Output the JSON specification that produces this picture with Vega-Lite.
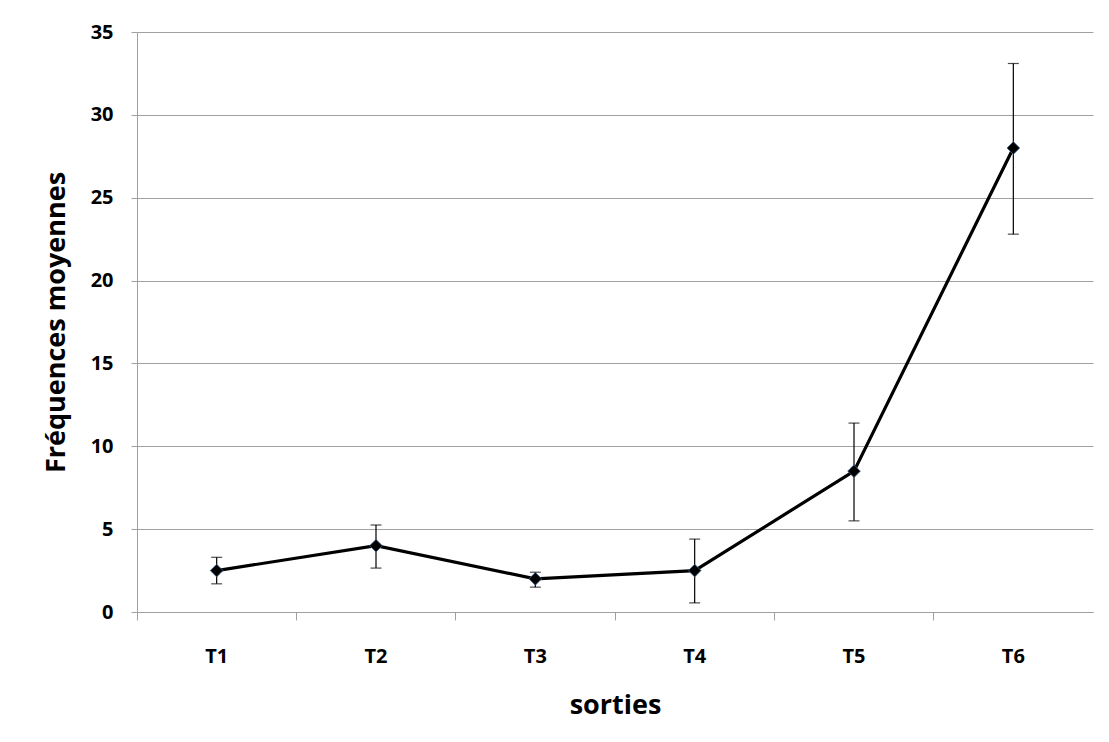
{
  "$schema": "https://vega.github.io/schema/vega-lite/v6.json",
  "autosize": "none",
  "width": 956,
  "height": 580,
  "padding": {"left": 137, "top": 32, "right": 16, "bottom": 130},
  "background": "white",
  "config": {
    "view": {"stroke": null},
    "font": "Open Sans"
  },
  "data": {
    "values": [
      {"sortie": "T1", "moyenne": 2.5, "bas": 1.7, "haut": 3.3},
      {"sortie": "T2", "moyenne": 4.0, "bas": 2.65, "haut": 5.25},
      {"sortie": "T3", "moyenne": 2.0, "bas": 1.5, "haut": 2.4},
      {"sortie": "T4", "moyenne": 2.5, "bas": 0.55, "haut": 4.4},
      {"sortie": "T5", "moyenne": 8.5, "bas": 5.5, "haut": 11.4},
      {"sortie": "T6", "moyenne": 28.0, "bas": 22.8, "haut": 33.1}
    ]
  },
  "encoding": {
    "x": {
      "field": "sortie",
      "type": "nominal",
      "scale": {"paddingInner": 0, "paddingOuter": 0},
      "axis": {
        "title": "sorties",
        "titleFont": "Open Sans",
        "titleFontSize": 27,
        "titleFontWeight": "bold",
        "titleColor": "#000000",
        "titlePadding": 26,
        "labelAngle": 0,
        "labelFont": "Open Sans",
        "labelFontSize": 20,
        "labelFontWeight": "bold",
        "labelColor": "#000000",
        "labelPadding": 26,
        "bandPosition": 0,
        "tickSize": 8,
        "tickColor": "#a0a0a0",
        "domainColor": "#a0a0a0",
        "grid": false
      }
    }
  },
  "layer": [
    {
      "mark": {"type": "rule", "color": "#000000", "strokeWidth": 1.2},
      "encoding": {
        "y": {"field": "bas", "type": "quantitative"},
        "y2": {"field": "haut"}
      }
    },
    {
      "mark": {"type": "tick", "color": "#000000", "size": 11, "thickness": 1.2},
      "encoding": {"y": {"field": "bas", "type": "quantitative"}}
    },
    {
      "mark": {"type": "tick", "color": "#000000", "size": 11, "thickness": 1.2},
      "encoding": {"y": {"field": "haut", "type": "quantitative"}}
    },
    {
      "mark": {"type": "line", "color": "#000000", "strokeWidth": 3.2},
      "encoding": {
        "y": {
          "field": "moyenne",
          "type": "quantitative",
          "scale": {"domain": [0, 35], "nice": false},
          "axis": {
            "title": "Fréquences moyennes",
            "titleFont": "Open Sans",
            "titleFontSize": 27,
            "titleFontWeight": "bold",
            "titleColor": "#000000",
            "titlePadding": 20,
            "values": [0, 5, 10, 15, 20, 25, 30, 35],
            "labelFont": "Open Sans",
            "labelFontSize": 20,
            "labelFontWeight": "bold",
            "labelColor": "#000000",
            "labelPadding": 18,
            "tickSize": 6,
            "tickColor": "#a0a0a0",
            "domainColor": "#a0a0a0",
            "gridColor": "#a0a0a0",
            "gridWidth": 1
          }
        }
      }
    },
    {
      "mark": {"type": "point", "shape": "diamond", "filled": true, "color": "#000000", "size": 160, "stroke": "#3a5f8f", "strokeWidth": 0.8, "opacity": 1},
      "encoding": {"y": {"field": "moyenne", "type": "quantitative"}}
    }
  ]
}
